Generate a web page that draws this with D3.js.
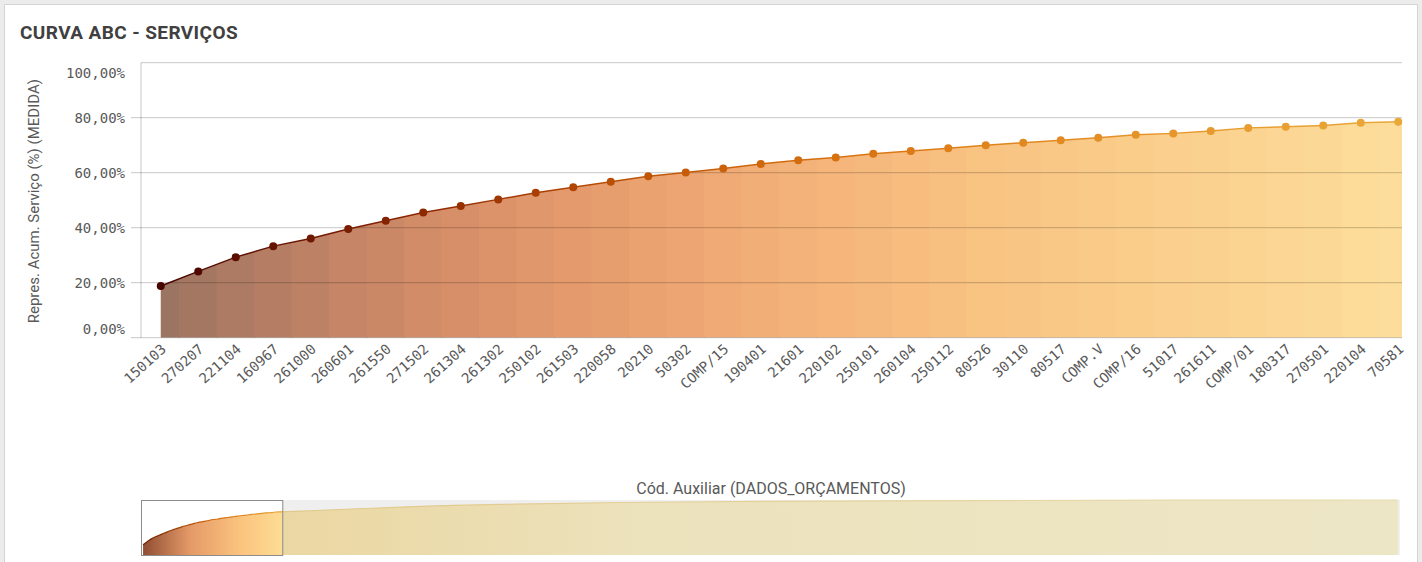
<!DOCTYPE html>
<html lang="pt">
<head>
<meta charset="UTF-8">
<title>Curva ABC - Serviços</title>
<script src="https://d3js.org/d3.v7.min.js"></script>
<style>
  body { margin: 0; background: #ececec; }
  .title { font-family: Roboto, sans-serif; font-weight: bold; font-size: 19px; letter-spacing: 0.4px; fill: #404040; }
  .axis-title { font-family: Roboto, sans-serif; font-size: 15px; fill: #595959; }
  .tick-label { font-family: "DejaVu Sans Mono", monospace; font-size: 14px; fill: #595959; }
  .grid { stroke: rgba(0,0,0,0.22); stroke-width: 1; }
</style>
</head>
<body>
<script>
// categories shown in the main view (first 34 of the ranking)
const categories = ["150103", "270207", "221104", "160967", "261000", "260601", "261550", "271502",
  "261304", "261302", "250102", "261503", "220058", "20210", "50302", "COMP/15", "190401", "21601",
  "220102", "250101", "260104", "250112", "80526", "30110", "80517", "COMP.V", "COMP/16", "51017",
  "261611", "COMP/01", "180317", "270501", "220104", "70581"];
// cumulative share (%)
const values = [18.8, 24.1, 29.3, 33.3, 36.1, 39.5, 42.5, 45.5, 47.9, 50.3, 52.7, 54.7, 56.7, 58.7,
  60.1, 61.5, 63.2, 64.5, 65.5, 66.9, 67.9, 68.9, 70.0, 70.9, 71.8, 72.7, 73.8, 74.3, 75.2, 76.3,
  76.7, 77.2, 78.2, 78.5];
const yTicks = [0, 20, 40, 60, 80, 100];

// overview (mini chart) – rest of the curve, read at a few category positions
const totalCategories = 303;
const overviewIndex = [40, 55, 67, 90, 115, 150, 200, 250, 302];
const overviewValues = [80.5, 85, 88.5, 92.5, 95.5, 97.5, 99, 99.6, 100];

const W = 1422, H = 562;
const svg = d3.select("body").append("svg").attr("width", W).attr("height", H);

// card
svg.append("rect").attr("x", 4.5).attr("y", 4.5).attr("width", 1413).attr("height", 580)
  .attr("fill", "#fff").attr("stroke", "#d4d4d4");

svg.append("text").attr("class", "title").attr("x", 20).attr("y", 39).text("CURVA ABC - SERVIÇOS");

const plot = {left: 141, right: 1402, top: 62.7, bottom: 337.7};

const x = d3.scaleBand().domain(categories).range([142, 142 + categories.length * 37.5]);
const cx = d => x(d) + x.bandwidth() / 2;
const y = d3.scaleLinear().domain([0, 100]).range([plot.bottom, plot.top]);

const pointColor = d3.scaleSequential()
  .domain([0, categories.length - 1])
  .interpolator(d3.interpolateRgbBasis(["#460500", "#8a2200", "#c85a05", "#dd7a14", "#e6962a", "#e9a838"]));
const fillColor = d3.scaleSequential()
  .domain([0, categories.length - 1])
  .interpolator(d3.interpolateRgbBasis(["#9b7462", "#cc8666", "#e69a6c", "#f4b078", "#f9c482", "#fbd08d", "#fddd9c"]));

const data = categories.map((c, i) => ({c, i, v: values[i]}));

// area clip
const last = data[data.length - 1];
const areaPts = data.map(d => [cx(d.c), y(d.v)]).concat([[plot.right, y(last.v)]]);
const area = d3.area().x(d => d[0]).y0(plot.bottom).y1(d => d[1]);
const defs = svg.append("defs");
defs.append("clipPath").attr("id", "areaClip").append("path").attr("d", area(areaPts));

svg.append("g").attr("clip-path", "url(#areaClip)")
  .selectAll("rect").data(data).join("rect")
  .attr("x", d => x(d.c) - 0.5)
  .attr("width", d => x.bandwidth() + 1)
  .attr("y", plot.top)
  .attr("height", plot.bottom - plot.top)
  .attr("fill", d => fillColor(d.i));

// grid + y axis
const grid = svg.append("g");
grid.selectAll("line").data(yTicks).join("line")
  .attr("class", "grid")
  .attr("x1", d => d === 100 ? plot.left : plot.left - 10)
  .attr("x2", plot.right)
  .attr("y1", d => y(d)).attr("y2", d => y(d));
svg.append("line").attr("class", "grid")
  .attr("x1", plot.left).attr("x2", plot.left)
  .attr("y1", plot.top).attr("y2", plot.bottom);

const fmt = v => d3.format(".2f")(v).replace(".", ",") + "%";
svg.append("g").selectAll("text").data(yTicks).join("text")
  .attr("class", "tick-label")
  .attr("x", 125)
  .attr("y", d => y(d) + (d === 100 ? 10 : d === 0 ? -9 : 0))
  .attr("dy", "0.35em")
  .attr("text-anchor", "end")
  .text(fmt);

svg.append("text").attr("class", "axis-title")
  .attr("transform", "translate(39," + ((plot.top + plot.bottom) / 2 + 1) + ") rotate(-90)")
  .attr("text-anchor", "middle")
  .text("Repres. Acum. Serviço (%) (MEDIDA)");

// line with gradient stroke
const lineGrad = defs.append("linearGradient").attr("id", "lineGrad")
  .attr("gradientUnits", "userSpaceOnUse")
  .attr("x1", cx(categories[0])).attr("x2", cx(last.c)).attr("y1", 0).attr("y2", 0);
lineGrad.selectAll("stop").data(data).join("stop")
  .attr("offset", d => d.i / (data.length - 1))
  .attr("stop-color", d => pointColor(d.i));

svg.append("path")
  .attr("d", d3.line()(areaPts))
  .attr("fill", "none")
  .attr("stroke", "url(#lineGrad)")
  .attr("stroke-width", 1.5);

svg.append("g").selectAll("circle").data(data).join("circle")
  .attr("cx", d => cx(d.c)).attr("cy", d => y(d.v)).attr("r", 4)
  .attr("fill", d => pointColor(d.i));

// x labels
svg.append("g").selectAll("text").data(data).join("text")
  .attr("class", "tick-label")
  .attr("text-anchor", "end")
  .attr("transform", d => "translate(" + (cx(d.c) + 3) + "," + (plot.bottom + 9) + ") rotate(-42)")
  .attr("dy", "0.35em")
  .text(d => d.c);

// overview
const ov = {left: 141, right: 1400, top: 500, bottom: 555};
svg.append("text").attr("class", "axis-title")
  .style("font-size", "16px")
  .attr("x", 771).attr("y", 494).attr("text-anchor", "middle")
  .text("Cód. Auxiliar (DADOS_ORÇAMENTOS)");

const ox = d3.scaleLinear().domain([0, totalCategories]).range([ov.left, ov.right]);
const oy = d3.scaleLinear().domain([0, 100]).range([ov.bottom, ov.top]);
const selRight = ox(categories.length);

svg.append("rect").attr("x", ov.left).attr("y", ov.top)
  .attr("width", ov.right - ov.left).attr("height", ov.bottom - ov.top).attr("fill", "#efefef");
svg.append("rect").attr("x", ov.left).attr("y", ov.top)
  .attr("width", selRight - ov.left).attr("height", ov.bottom - ov.top).attr("fill", "#fff");

const ovData = values.map((v, i) => [i + 0.5, v])
  .concat(overviewIndex.map((k, j) => [k + 0.5, overviewValues[j]]));

const selFrac = (selRight - ov.left) / (ov.right - ov.left);
const ovGrad = defs.append("linearGradient").attr("id", "ovGrad")
  .attr("gradientUnits", "userSpaceOnUse")
  .attr("x1", ov.left).attr("x2", ov.right).attr("y1", 0).attr("y2", 0);
[[0, "#8c4a30"], [selFrac * 0.35, "#e59a68"], [selFrac * 0.7, "#fbc37e"], [selFrac, "#fddc94"],
 [selFrac, "#ebd7a2"], [0.4, "#ece2bc"], [1, "#ede6c6"]]
  .forEach(s => ovGrad.append("stop").attr("offset", s[0]).attr("stop-color", s[1]));

const ovStroke = defs.append("linearGradient").attr("id", "ovStroke")
  .attr("gradientUnits", "userSpaceOnUse")
  .attr("x1", ov.left).attr("x2", ov.right).attr("y1", 0).attr("y2", 0);
[[0, "#6a1a00"], [selFrac * 0.5, "#d06a10"], [selFrac, "#e8a838"], [selFrac, "#e2c88a"], [1, "#e8dcb0"]]
  .forEach(s => ovStroke.append("stop").attr("offset", s[0]).attr("stop-color", s[1]));

const ovArea = d3.area().curve(d3.curveMonotoneX)
  .x(d => ox(d[0])).y0(ov.bottom).y1(d => oy(d[1]));
svg.append("path").attr("d", ovArea(ovData)).attr("fill", "url(#ovGrad)");
svg.append("path").attr("d", d3.line().curve(d3.curveMonotoneX).x(d => ox(d[0])).y(d => oy(d[1]))(ovData))
  .attr("fill", "none").attr("stroke", "url(#ovStroke)").attr("stroke-width", 1.2);

svg.append("rect").attr("x", ov.left + 0.5).attr("y", ov.top + 0.5)
  .attr("width", selRight - ov.left).attr("height", ov.bottom - ov.top)
  .attr("fill", "none").attr("stroke", "#8c8c8c");
</script>
</body>
</html>
